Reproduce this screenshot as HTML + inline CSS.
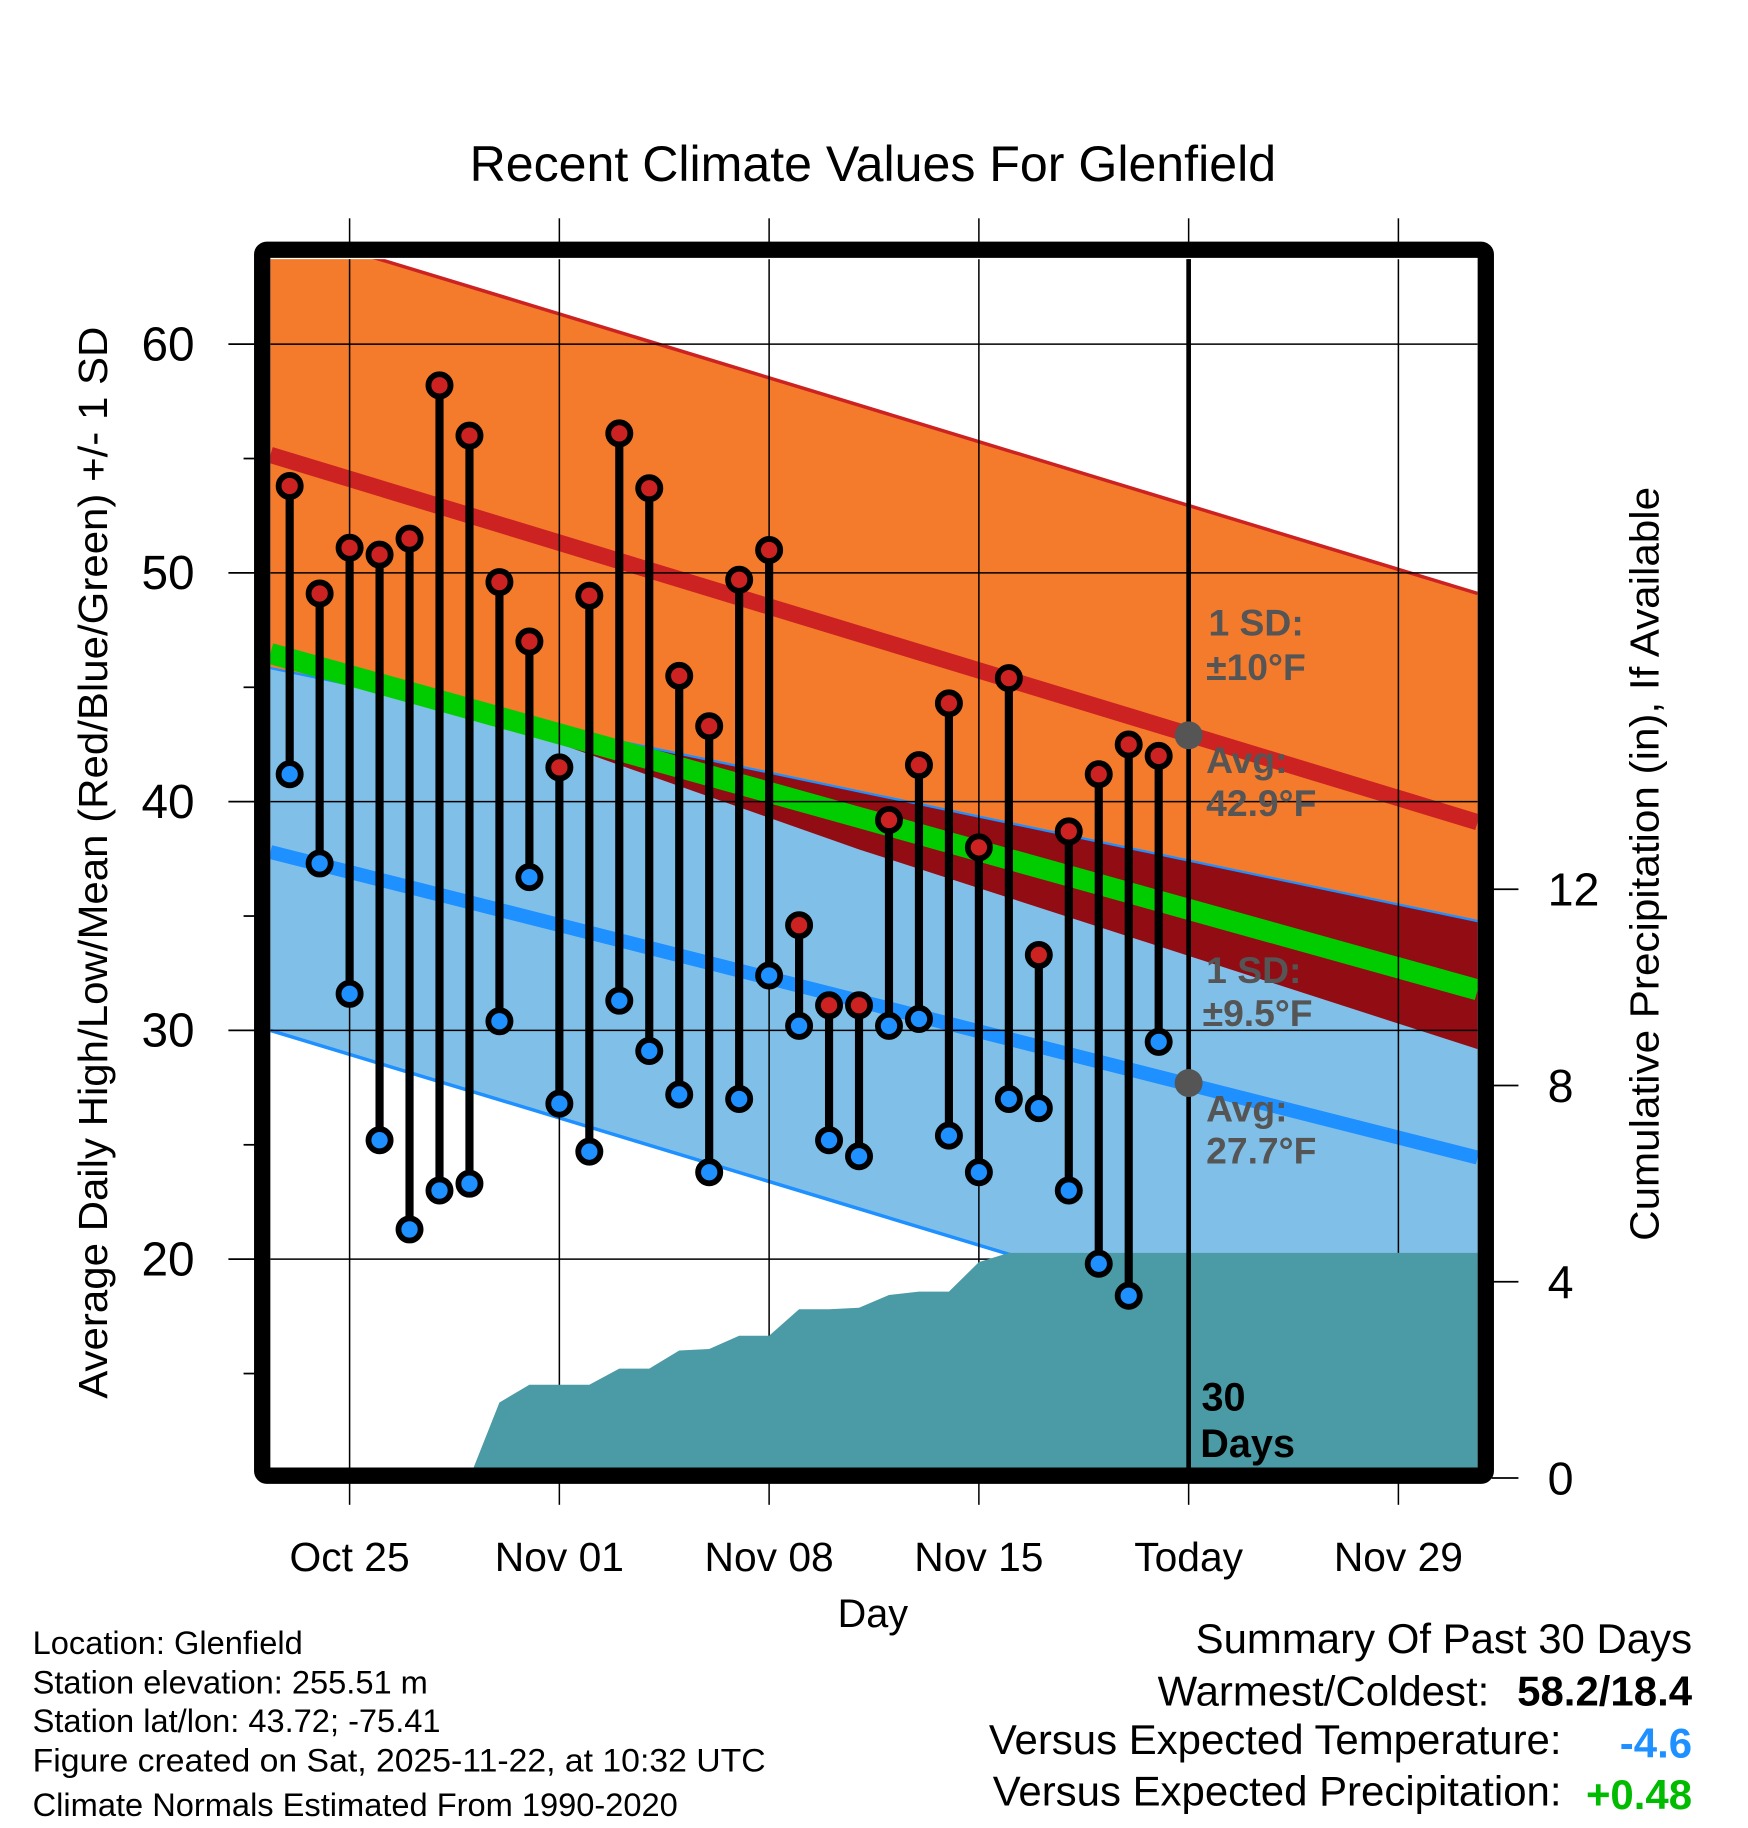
<!DOCTYPE html>
<html><head><meta charset="utf-8"><style>
html,body{margin:0;padding:0;background:#fff;}
svg{display:block;font-family:"Liberation Sans",Arial,sans-serif;}
</style></head><body>
<svg id="chart" width="1748" height="1828" viewBox="0 0 1500 1568" xmlns="http://www.w3.org/2000/svg">
<defs><clipPath id="plotclip"><rect x="232" y="222" width="1036" height="1037"/></clipPath></defs>
<text x="749" y="155" font-size="43" text-anchor="middle">Recent Climate Values For Glenfield</text>
<g id="bands" clip-path="url(#plotclip)"></g>
<g id="grid" clip-path="url(#plotclip)"></g>
<g id="precip" clip-path="url(#plotclip)"></g>
<g id="annot">
  <text x="1037" y="545" font-size="32" font-weight="bold" fill="#555">1 SD:</text>
  <text x="1035" y="583" font-size="32" font-weight="bold" fill="#555">±10°F</text>
  <text x="1035" y="663" font-size="32" font-weight="bold" fill="#555">Avg:</text>
  <text x="1035" y="700" font-size="32" font-weight="bold" fill="#555">42.9°F</text>
  <text x="1035" y="843" font-size="32" font-weight="bold" fill="#555">1 SD:</text>
  <text x="1032" y="880" font-size="32" font-weight="bold" fill="#555">±9.5°F</text>
  <text x="1035" y="962" font-size="32" font-weight="bold" fill="#555">Avg:</text>
  <text x="1035" y="998" font-size="32" font-weight="bold" fill="#555">27.7°F</text>
</g>
<g id="marks"></g>
<g id="today"></g>
<rect x="225" y="214" width="1050" height="1052" rx="4" fill="none" stroke="#000" stroke-width="14"/>
<g id="axes"></g>
<text x="749" y="1396" font-size="34" text-anchor="middle">Day</text>
<text transform="translate(92,740) rotate(-90)" font-size="35" text-anchor="middle" textLength="920" lengthAdjust="spacingAndGlyphs">Average Daily High/Low/Mean (Red/Blue/Green) +/- 1 SD</text>
<text transform="translate(1423,741) rotate(-90)" font-size="35" text-anchor="middle" textLength="647" lengthAdjust="spacingAndGlyphs">Cumulative Precipitation (in), If Available</text>
<g font-size="28">
  <text x="28" y="1419">Location: Glenfield</text>
  <text x="28" y="1453">Station elevation: 255.51 m</text>
  <text x="28" y="1486">Station lat/lon: 43.72; -75.41</text>
  <text x="28" y="1520" textLength="629" lengthAdjust="spacingAndGlyphs">Figure created on Sat, 2025-11-22, at 10:32 UTC</text>
  <text x="28" y="1558">Climate Normals Estimated From 1990-2020</text>
</g>
<g font-size="36">
  <text x="1452" y="1418" text-anchor="end">Summary Of Past 30 Days</text>
  <text x="1278" y="1463" text-anchor="end">Warmest/Coldest:</text>
  <text x="1452" y="1463" text-anchor="end" font-weight="bold">58.2/18.4</text>
  <text x="1340" y="1505" text-anchor="end">Versus Expected Temperature:</text>
  <text x="1452" y="1508" text-anchor="end" font-weight="bold" fill="#1e90ff">-4.6</text>
  <text x="1340" y="1549" text-anchor="end">Versus Expected Precipitation:</text>
  <text x="1452" y="1552" text-anchor="end" font-weight="bold" fill="#00bb00">+0.48</text>
</g>
</svg>
<script>
// ---- data ----
const dayLabels = ["Oct 25","Nov 01","Nov 08","Nov 15","Today","Nov 29"];
const dayLabelOffsets = [0,7,14,21,28,35]; // days since Oct 25
const yTicks = [60,50,40,30,20];
const yMinorTicks = [55,45,35,25,15];
const precipTicks = [0,4,8,12];
const firstDayOffset = -2; // Oct 23
const highs = [53.8,49.1,51.1,50.8,51.5,58.2,56.0,49.6,47.0,41.5,49.0,56.1,53.7,45.5,43.3,49.7,51.0,34.6,31.1,31.1,39.2,41.6,44.3,38.0,45.4,33.3,38.7,41.2,42.5,42.0];
const lows = [41.2,37.3,31.6,25.2,21.3,23.0,23.3,30.4,36.7,26.8,24.7,31.3,29.1,27.2,23.8,27.0,32.4,30.2,25.2,24.5,30.2,30.5,25.4,23.8,27.0,26.6,23.0,19.8,18.4,29.5];
const precipCum = [0,0,0,0,0,0,0,1.54,1.9,1.9,1.9,2.23,2.23,2.6,2.63,2.9,2.9,3.44,3.44,3.47,3.73,3.8,3.8,4.4,4.59,4.59,4.59,4.59,4.59,4.59];
const normalDays = [-2.644,3.889,17.03,37.644];
const highUpper = [65.16,62.56,57.32,49.1];
const highMean = [55.16,52.56,47.32,39.1];
const highLower = [45.84,43.96,37.9,29.18];
const lowUpper = [45.84,44.05,40.44,34.78];
const lowMean = [37.8,35.64,31.28,24.44];
const lowLower = [30.0,27.41,22.19,14.0];
const meanLine = [46.48,44.1,39.3,31.77];
const todayOffset = 28;
const todayHighAvg = 42.9, todayLowAvg = 27.7;

// ---- scales ----
const X0 = 300, PX_DAY = 180/7;
const x = d => X0 + d*PX_DAY;
const y = t => 295 + (60 - t)*19.63;
const yp = p => 1268 - p*42.1;
const NS = "http://www.w3.org/2000/svg";
function mk(tag, parent, attrs){const e=document.createElementNS(NS,tag);for(const k in attrs)e.setAttribute(k,attrs[k]);parent.appendChild(e);return e;}
const G = id => document.getElementById(id);
const line = arr => normalDays.map((d,i)=>x(d)+","+y(arr[i])).join(" ");
const band = (top,bot) => normalDays.map((d,i)=>x(d)+","+y(top[i])).concat(normalDays.map((d,i)=>x(d)+","+y(bot[i])).reverse()).join(" ");

// bands
const bands = G("bands");
let e;
e = mk("polygon",bands,{points:band(highUpper,highLower),fill:"#f47a2c"});
 
e = mk("polygon",bands,{points:band(lowUpper,lowLower),fill:"#80c0e8"});
 
e = mk("polygon",bands,{points:band(lowUpper,highLower),fill:"#920c14"});
 
e = mk("polyline",bands,{points:line(highUpper),fill:"none",stroke:"#cc2222","stroke-width":3});
 
e = mk("polyline",bands,{points:line(lowUpper),fill:"none",stroke:"#1e90ff","stroke-width":2});
 
e = mk("polyline",bands,{points:line(lowLower),fill:"none",stroke:"#1e90ff","stroke-width":3});
 
e = mk("polyline",bands,{points:line(highMean),fill:"none",stroke:"#cc2222","stroke-width":14});
 
e = mk("polyline",bands,{points:line(meanLine),fill:"none",stroke:"#00cc00","stroke-width":18});
 
e = mk("polyline",bands,{points:line(lowMean),fill:"none",stroke:"#1e90ff","stroke-width":12});
 

// grid
const grid = G("grid");
dayLabelOffsets.forEach(d=>{e=mk("line",grid,{x1:x(d),x2:x(d),y1:222,y2:1259,stroke:"#000","stroke-width":1.3});
 });
yTicks.forEach(t=>{e=mk("line",grid,{x1:232,x2:1268,y1:y(t),y2:y(t),stroke:"#000","stroke-width":1.3});
 });

// precip
const pts = precipCum.map((p,i)=>x(firstDayOffset+i)+","+yp(p));
const precipPts = [x(firstDayOffset)+","+1270].concat(pts,[ "1270,"+yp(precipCum[precipCum.length-1]), "1270,1270"]).join(" ");
e = mk("polygon",G("precip"),{points:precipPts,fill:"#4a9ba5"});
 

// stems & markers
const marks = G("marks");
highs.forEach((h,i)=>{
  const xx = x(firstDayOffset+i);
  e = mk("line",marks,{x1:xx,x2:xx,y1:y(h),y2:y(lows[i]),stroke:"#000","stroke-width":7});
   
  e = mk("circle",marks,{cx:xx,cy:y(h),r:9.5,fill:"#cc2222",stroke:"#000","stroke-width":5});
   
  e = mk("circle",marks,{cx:xx,cy:y(lows[i]),r:9.5,fill:"#1e90ff",stroke:"#000","stroke-width":5});
   
});

// today
const td = G("today");
e = mk("line",td,{x1:x(todayOffset),x2:x(todayOffset),y1:222,y2:1259,stroke:"#000","stroke-width":4});
 
e = mk("circle",td,{cx:x(todayOffset),cy:y(todayHighAvg),r:12,fill:"#555"});
 
e = mk("circle",td,{cx:x(todayOffset),cy:y(todayLowAvg),r:12,fill:"#555"});
 
e = mk("text",td,{x:x(todayOffset)+11,y:1210,"font-size":34,"font-weight":"bold"}); e.textContent="30";
 
e = mk("text",td,{x:x(todayOffset)+10,y:1250,"font-size":34,"font-weight":"bold"}); e.textContent="Days";
 

// axes
const ax = G("axes");
dayLabelOffsets.forEach((d,i)=>{
  e=mk("line",ax,{x1:x(d),x2:x(d),y1:187,y2:208,stroke:"#000","stroke-width":1.3});
   
  e=mk("line",ax,{x1:x(d),x2:x(d),y1:1272,y2:1291,stroke:"#000","stroke-width":1.3});
   
  e=mk("text",ax,{x:x(d),y:1348,"font-size":35,"text-anchor":"middle"}); e.textContent=dayLabels[i];
   
});
yTicks.forEach(t=>{
  e=mk("line",ax,{x1:196,x2:220,y1:y(t),y2:y(t),stroke:"#000","stroke-width":1.5});
   
  e=mk("text",ax,{x:167,y:y(t)+14,"font-size":41,"text-anchor":"end"}); e.textContent=t;
   
});
yMinorTicks.forEach(t=>{
  e=mk("line",ax,{x1:209,x2:220,y1:y(t),y2:y(t),stroke:"#000","stroke-width":1.5});
   
});
precipTicks.forEach(p=>{
  e=mk("line",ax,{x1:1280,x2:1303,y1:yp(p),y2:yp(p),stroke:"#000","stroke-width":1.5});
   
  e=mk("text",ax,{x:1328,y:yp(p)+14,"font-size":40}); e.textContent=p;
   
});
</script>
</body></html>
